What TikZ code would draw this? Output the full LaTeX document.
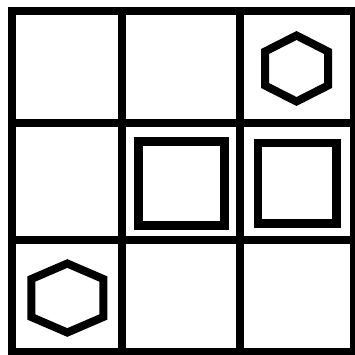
\documentclass[tikz,border=0pt]{standalone}
\usetikzlibrary{calc}
\begin{document}
\begin{tikzpicture}[x=1pt, y=-1pt, line join=miter,
    gridline/.style={line width=8pt, black},
    shapeline/.style={line width=8.5pt, black}]
  \useasboundingbox (0,0) rectangle (355,354);
  \clip (0,0) rectangle (355,354);
  \fill[white] (0,0) rectangle (355,354);
  %% Outer frame and grid lines
  \draw[gridline] (11.5,11) rectangle (354,352);
  \foreach \gx in {122,240}{
    \draw[gridline] (\gx,11) -- (\gx,352);
  }
  \foreach \gy in {123,240}{
    \draw[gridline] (11.5,\gy) -- (354,\gy);
  }
  %% Squares (middle row)
  \draw[shapeline, line width=9pt] (138.5,141) rectangle (224,225);
  \draw[shapeline] (258,143) rectangle (336.5,223.5);
  %% Hexagon, top right cell
  \coordinate (hexA) at (296.5,68.5);
  \draw[shapeline, line width=8pt] ($(hexA)+(0,-33)$) -- ++(31.5,16) -- ++(0,34)
    -- ++(-31.5,16) -- ++(-31.5,-16) -- ++(0,-34) -- cycle;
  %% Hexagon, bottom left cell
  \coordinate (hexB) at (67.3,298);
  \draw[shapeline, line width=8pt] ($(hexB)+(0,-34.5)$) -- ++(36,15.5) -- ++(0,38)
    -- ++(-36,15.5) -- ++(-36,-15.5) -- ++(0,-38) -- cycle;
\end{tikzpicture}
\end{document}
